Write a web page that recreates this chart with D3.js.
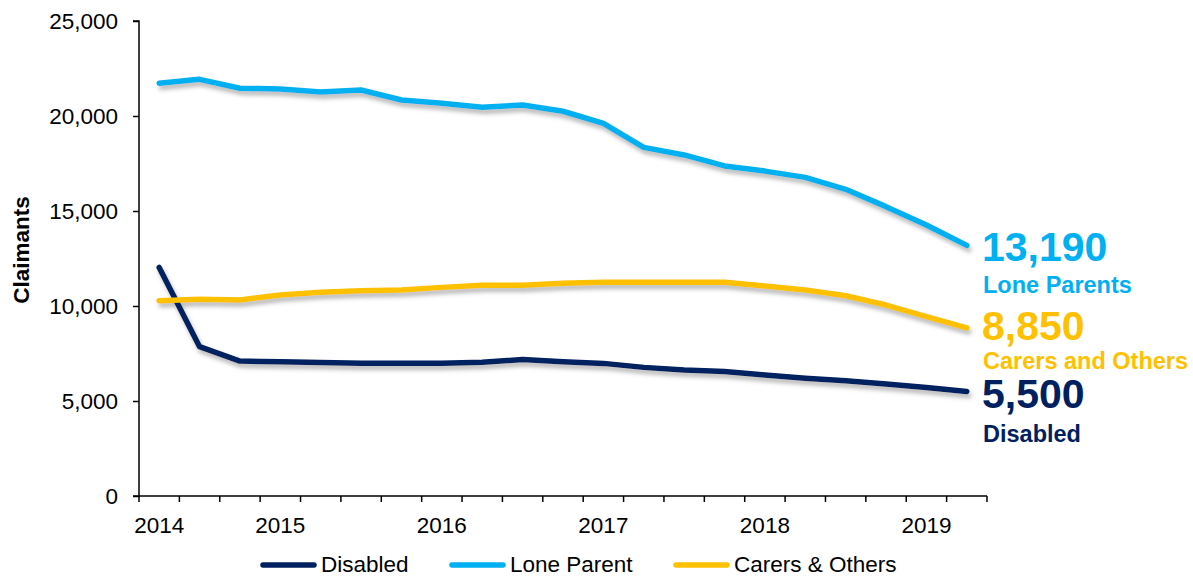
<!DOCTYPE html>
<html>
<head>
<meta charset="utf-8">
<script src="https://cdn.jsdelivr.net/npm/d3@7"></script>
<style>
  html, body { margin: 0; padding: 0; background: #fff; }
  svg { display: block; font-family: "Liberation Sans", Arial, sans-serif; }
</style>
</head>
<body>
<svg id="chart" width="1193" height="577"></svg>
<script>
// ---- data ----
const categories = d3.range(21).map(i => "Q" + i);
const xLabels = ["2014","","","2015","","","","2016","","","","2017","","","","2018","","","","2019",""];
const disabled = [12030, 7860, 7100, 7070, 7020, 6990, 6990, 6990, 7040, 7180, 7070, 6980, 6770, 6630, 6550, 6370, 6200, 6060, 5900, 5710, 5500];
const loneParent = [21720, 21930, 21460, 21420, 21260, 21370, 20840, 20670, 20460, 20580, 20250, 19610, 18350, 17950, 17370, 17100, 16770, 16140, 15230, 14260, 13190];
const carers = [10280, 10350, 10320, 10580, 10720, 10800, 10840, 10980, 11090, 11090, 11200, 11250, 11250, 11250, 11250, 11050, 10840, 10540, 10050, 9440, 8850];
const yTicks = [0, 5000, 10000, 15000, 20000, 25000];
const seriesNames = ["Disabled", "Lone Parent", "Carers & Others"];
const endValues = ["13,190", "8,850", "5,500"];
const endNames = ["Lone Parents", "Carers and Others", "Disabled"];

const colors = { "Disabled": "#002060", "Lone Parent": "#00B0F0", "Carers & Others": "#FFC000" };
const series = [
  { name: "Disabled", values: disabled },
  { name: "Lone Parent", values: loneParent },
  { name: "Carers & Others", values: carers }
];

const svg = d3.select("#chart");
const pLeft = 139, pRight = 987, pTop = 21, pBottom = 496;

const x = d3.scaleBand().domain(categories).range([pLeft, pRight]).paddingInner(0).paddingOuter(0);
const y = d3.scaleLinear().domain([0, 25000]).range([pBottom, pTop]);
const cx = c => x(c) + x.bandwidth() / 2;

// shadow filter
const defs = svg.append("defs");
const f = defs.append("filter").attr("id", "shadow").attr("x", "-10%").attr("y", "-20%").attr("width", "130%").attr("height", "160%");
f.append("feGaussianBlur").attr("in", "SourceAlpha").attr("stdDeviation", 2.2).attr("result", "blur");
f.append("feOffset").attr("in", "blur").attr("dx", 2).attr("dy", 4).attr("result", "off");
f.append("feFlood").attr("flood-color", "#7f7f7f").attr("flood-opacity", 0.55);
f.append("feComposite").attr("in2", "off").attr("operator", "in").attr("result", "sh");
const m = f.append("feMerge");
m.append("feMergeNode").attr("in", "sh");
m.append("feMergeNode").attr("in", "SourceGraphic");

// y axis
const yAxis = d3.axisLeft(y).tickValues(yTicks).tickSize(6).tickPadding(15).tickFormat(d3.format(","));
const gy = svg.append("g").attr("transform", `translate(${pLeft},0)`).call(yAxis);
gy.select(".domain").attr("stroke", "#000").attr("stroke-width", 1.5).attr("d", `M-6,${pTop}H0V${pBottom}H-6`);
gy.selectAll(".tick line").attr("stroke", "#000").attr("stroke-width", 1.5);
gy.selectAll(".tick text").attr("font-size", 22.5).attr("fill", "#000").attr("font-family", "Liberation Sans, Arial, sans-serif");

// x axis
const xAxisG = svg.append("g");
xAxisG.append("line").attr("x1", pLeft).attr("x2", pRight).attr("y1", pBottom).attr("y2", pBottom)
  .attr("stroke", "#000").attr("stroke-width", 1.5);
const boundaries = categories.map(c => x(c)).concat([x(categories[categories.length - 1]) + x.bandwidth()]);
xAxisG.selectAll("line.tk").data(boundaries).join("line").attr("class", "tk")
  .attr("x1", d => d).attr("x2", d => d).attr("y1", pBottom).attr("y2", pBottom + 6)
  .attr("stroke", "#000").attr("stroke-width", 1.5);
xAxisG.selectAll("text").data(categories.map((c, i) => ({ c, l: xLabels[i] })).filter(d => d.l))
  .join("text").attr("x", d => cx(d.c)).attr("y", 533).attr("text-anchor", "middle")
  .attr("font-size", 22.5).attr("fill", "#000").text(d => d.l);

// y title
svg.append("text").attr("transform", "translate(29,250) rotate(-90)").attr("text-anchor", "middle")
  .attr("font-size", 22.5).attr("font-weight", "bold").attr("fill", "#000").text("Claimants");

// lines
const line = d3.line().x((d, i) => cx(categories[i])).y(d => y(d)).curve(d3.curveLinear);
svg.append("g").attr("filter", "url(#shadow)").selectAll("path").data(series).join("path")
  .attr("d", d => line(d.values)).attr("fill", "none")
  .attr("stroke", d => colors[d.name]).attr("stroke-width", 5.5)
  .attr("stroke-linejoin", "round").attr("stroke-linecap", "round");

// end labels
const endColors = [colors["Lone Parent"], colors["Carers & Others"], colors["Disabled"]];
const valY = [261, 340, 408];
const nameY = [293, 369, 442];
const lab = svg.append("g").attr("font-weight", "bold");
endValues.forEach((v, i) => {
  lab.append("text").attr("x", 982).attr("y", valY[i]).attr("font-size", 41).attr("fill", endColors[i]).text(v);
  lab.append("text").attr("x", 983).attr("y", nameY[i]).attr("font-size", 23.5).attr("fill", endColors[i]).text(endNames[i]);
});

// legend
const legX = [261, 450, 674];
const leg = svg.append("g");
seriesNames.forEach((n, i) => {
  leg.append("line").attr("x1", legX[i] + 2).attr("x2", legX[i] + 53).attr("y1", 565).attr("y2", 565)
    .attr("stroke", colors[n]).attr("stroke-width", 5.5).attr("stroke-linecap", "round");
  leg.append("text").attr("x", legX[i] + 60).attr("y", 572).attr("font-size", 22.5).attr("fill", "#000").text(n);
});
</script>
</body>
</html>
